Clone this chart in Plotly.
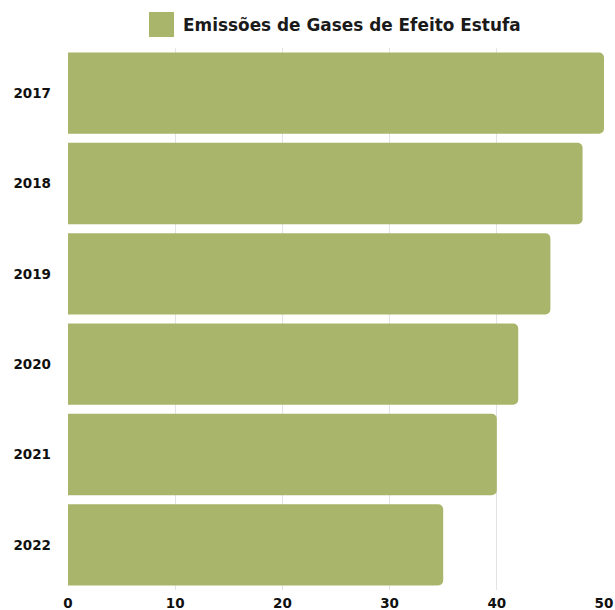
import plotly.graph_objects as go

years = ["2017", "2018", "2019", "2020", "2021", "2022"]
emissions = [50, 48, 45, 42, 40, 35]
x_ticks = [0, 10, 20, 30, 40, 50]
series_name = "Emissões de Gases de Efeito Estufa"
bar_color = "#A9B56A"

fig = go.Figure()
fig.add_trace(go.Bar(
    y=years, x=emissions, orientation="h",
    marker=dict(color=bar_color, line=dict(width=0), cornerradius=5),
    name=series_name, showlegend=False, hoverinfo="skip",
))

tick_font = dict(size=13.5, family="DejaVu Sans", weight="bold", color="#111111")

fig.update_layout(
    width=615, height=610,
    margin=dict(l=68, r=11, t=48, b=20, autoexpand=False),
    paper_bgcolor="white", plot_bgcolor="white",
    bargap=0.1,
    font=dict(family="DejaVu Sans", color="#111111"),
    xaxis=dict(range=[0, 50], tickvals=x_ticks, showgrid=True, gridcolor="#e3e3e3",
               gridwidth=1, zeroline=False, showline=False, automargin=False,
               tickfont=tick_font, ticklabelstandoff=3, fixedrange=True),
    yaxis=dict(categoryorder="array", categoryarray=years, autorange="reversed",
               showgrid=False, zeroline=False, showline=False, automargin=False,
               tickfont=tick_font, ticklabelstandoff=16, fixedrange=True),
    shapes=[dict(type="rect", xref="paper", yref="paper",
                 x0=(149 - 68) / 536, x1=(174 - 68) / 536,
                 y0=(590 - 37) / 542, y1=(590 - 12) / 542,
                 fillcolor=bar_color, line=dict(width=0))],
    annotations=[dict(text=series_name, xref="paper", yref="paper",
                      x=(181 - 68) / 536, y=(590 - 24.5) / 542,
                      xanchor="left", yanchor="middle", showarrow=False,
                      font=dict(size=16.9, family="DejaVu Sans", weight="bold", color="#1a1a1a"))],
)

fig.write_html("out.html", config={"displayModeBar": False},
               post_script="document.body.style.margin='0';")
